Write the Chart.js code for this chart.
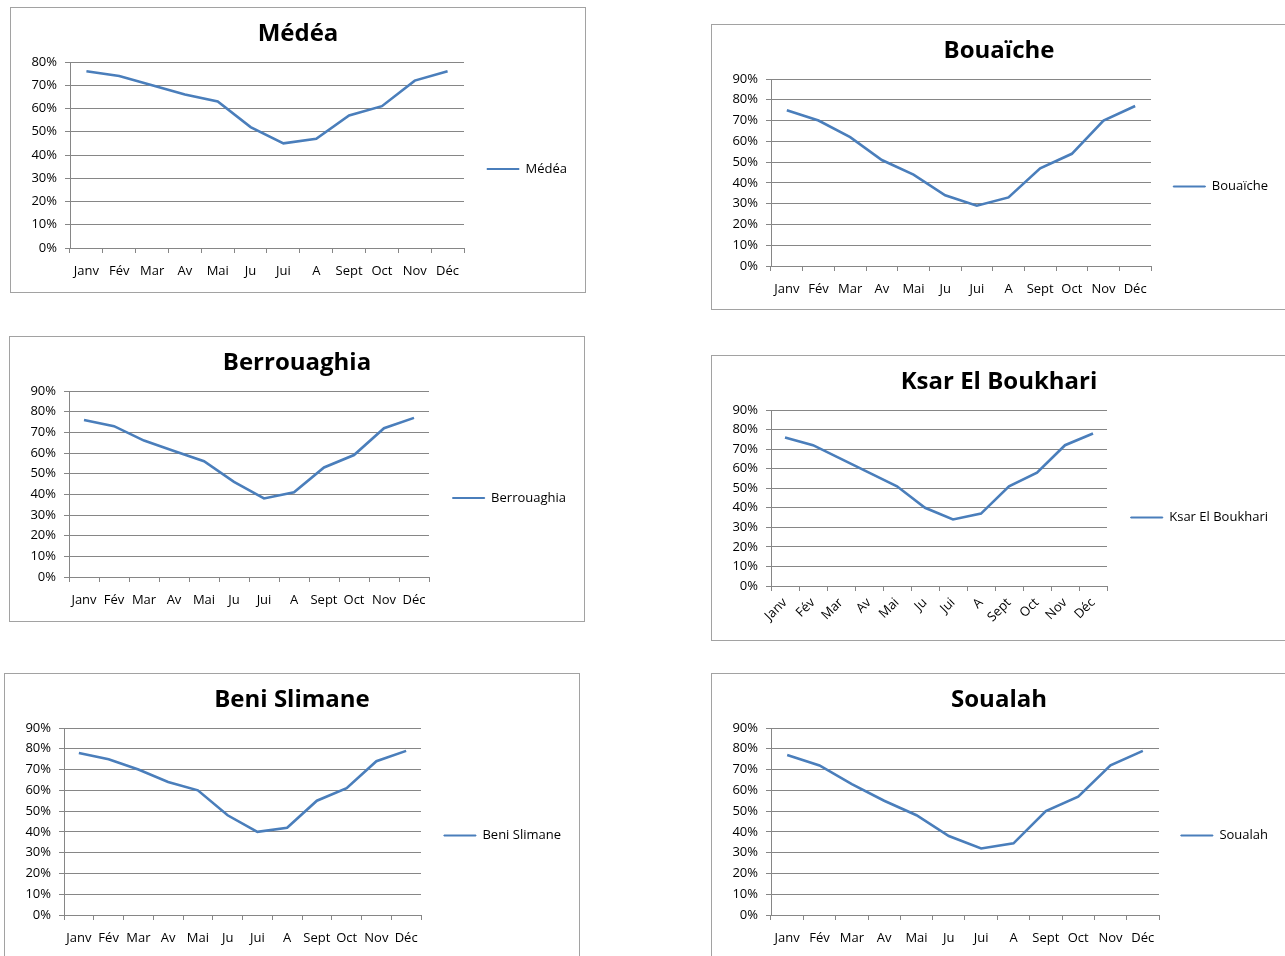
<!DOCTYPE html>
<html>
<head>
<meta charset="utf-8">
<title>Humidité relative mensuelle</title>
<script src="https://cdn.jsdelivr.net/npm/chart.js@4.4.1/dist/chart.umd.min.js"></script>
<style>
  html, body { margin: 0; padding: 0; background: #fff; overflow: hidden; width: 1285px; height: 956px; }
  .box { position: absolute; box-sizing: border-box; border: 1px solid #a2a2a2; background: #fff; }
  .box canvas { position: absolute; left: 0; top: 0; }
</style>
</head>
<body>
<div id="page"></div>
<script>
const months = ['Janv', 'Fév', 'Mar', 'Av', 'Mai', 'Ju', 'Jui', 'A', 'Sept', 'Oct', 'Nov', 'Déc']

// humidité relative moyenne (%) par station
const medea = [76, 74, 70, 66, 63, 52, 45, 47, 57, 61, 72, 76]
const bouaiche = [75, 70, 62, 51, 44, 34, 29, 33, 47, 54, 70, 77]
const berrouaghia = [76, 73, 66, 61, 56, 46, 38, 41, 53, 59, 72, 77]
const ksarElBoukhari = [76, 72, 65, 58, 51, 40, 34, 37, 51, 58, 72, 78]
const beniSlimane = [78, 75, 70, 64, 60, 48, 40, 42, 55, 61, 74, 79]
const soualah = [77, 72, 63, 55, 48, 38, 32, 34.5, 50, 57, 72, 79]

const yMaxMedea = 80
const yMaxOthers = 90

const FONT = "'Open Sans', 'Noto Sans', sans-serif"
const BLUE = '#4a7ebb'
const GRID = '#868686'

// one entry per framed chart: frame position, plot box inside the frame
const panels = [
  { title: 'Médéa', data: medea, max: yMaxMedea, left: 10, top: 7, plotRight: 454, xH: 44 },
  { title: 'Bouaïche', data: bouaiche, max: yMaxOthers, left: 711, top: 24, plotRight: 440, xH: 43 },
  { title: 'Berrouaghia', data: berrouaghia, max: yMaxOthers, left: 9, top: 336, plotRight: 420, xH: 44 },
  { title: 'Ksar El Boukhari', data: ksarElBoukhari, max: yMaxOthers, left: 711, top: 355, plotRight: 396, xH: 54, rotate: true },
  { title: 'Beni Slimane', data: beniSlimane, max: yMaxOthers, left: 4, top: 673, plotRight: 417, xH: 43 },
  { title: 'Soualah', data: soualah, max: yMaxOthers, left: 711, top: 673, plotRight: 448, xH: 43 }
]

const BOX_W = 576
const BOX_H = 286
const SIDE = 8

const makePanel = (p) => {
  const box = document.createElement('div')
  box.className = 'box'
  box.style.left = p.left + 'px'
  box.style.top = p.top + 'px'
  box.style.width = BOX_W + 'px'
  box.style.height = BOX_H + 'px'
  const canvas = document.createElement('canvas')
  canvas.width = BOX_W - 2
  canvas.height = BOX_H - 2
  box.appendChild(canvas)
  document.getElementById('page').appendChild(box)

  const chart = new Chart(canvas, {
    type: 'line',
    data: {
      labels: months,
      datasets: [{
        label: p.title,
        data: p.data,
        borderColor: BLUE,
        backgroundColor: BLUE,
        borderWidth: 2.6,
        pointRadius: 0,
        tension: 0,
        fill: false
      }]
    },
    options: {
      responsive: false,
      animation: false,
      events: [],
      layout: { padding: { left: SIDE, top: 0, bottom: 0, right: SIDE } },
      plugins: {
        title: {
          display: true,
          text: p.title,
          color: '#000',
          font: { family: FONT, size: 24, weight: 'bold', lineHeight: 1.2 },
          padding: { top: 11.6, bottom: 13.6 }
        },
        legend: {
          position: 'right',
          fullSize: false,
          align: 'center',
          maxWidth: 300,
          // blank title pushes the key down so it sits level with plot + axis labels
          title: { display: true, text: '', padding: 0, font: { size: p.rotate ? 39 : 28, lineHeight: 1 } },
          labels: {
            boxWidth: 32,
            boxHeight: 1,
            padding: 24,
            color: '#000',
            font: { family: FONT, size: 13 },
            generateLabels: (c) => Chart.defaults.plugins.legend.labels.generateLabels(c).map(l => ({ ...l, lineWidth: 1 }))
          }
        },
        tooltip: { enabled: false }
      },
      scales: {
        x: {
          offset: true,
          afterFit: (s) => { s.height = p.xH },
          grid: { offset: true, drawOnChartArea: false, drawTicks: true, tickLength: 5, color: GRID },
          border: { display: true, color: GRID, width: 1 },
          ticks: {
            color: '#000',
            font: { family: FONT, size: 13 },
            padding: p.rotate ? 4 : 10,
            autoSkip: false,
            maxRotation: p.rotate ? 45 : 0,
            minRotation: p.rotate ? 45 : 0
          }
        },
        y: {
          min: 0,
          max: p.max,
          afterFit: (s) => { s.width = 59 - SIDE },
          grid: { color: GRID, drawTicks: true, tickLength: 5 },
          border: { display: true, color: GRID, width: 1 },
          ticks: {
            stepSize: 10,
            color: '#000',
            padding: 8,
            font: { family: FONT, size: 13 },
            callback: v => v + '%'
          }
        }
      }
    }
  })

  // the key stays right-aligned; widen its padding until the plot ends at plotRight
  const target = p.plotRight - 1
  chart.options.plugins.legend.labels.padding += chart.chartArea.right - target
  chart.update()
  return chart
}

const charts = panels.map(makePanel)
</script>
</body>
</html>
